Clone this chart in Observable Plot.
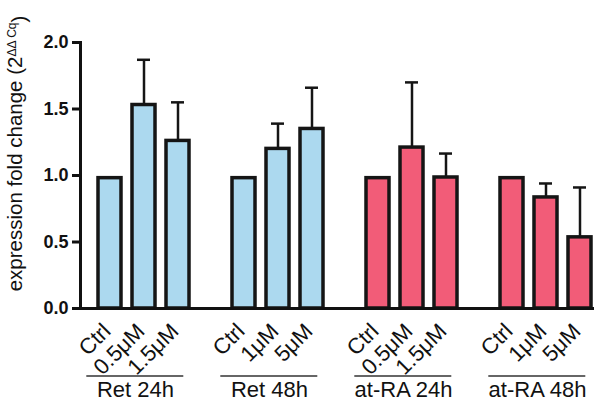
<!DOCTYPE html>
<html>
<head>
<meta charset="utf-8">
<script src="https://cdn.jsdelivr.net/npm/d3@7"></script>
<script src="https://cdn.jsdelivr.net/npm/@observablehq/plot@0.6"></script>
<style>
  html, body { margin: 0; padding: 0; background: #fff; }
  #chart svg { display: block; }
</style>
</head>
<body>
<div id="chart"></div>
<script>
// ---- data ----
const groups = ["Ret 24h", "Ret 48h", "at-RA 24h", "at-RA 48h"];
const compounds = ["Ret", "Ret", "at-RA", "at-RA"];
const treatments = [
  ["Ctrl", "0.5μM", "1.5μM"],
  ["Ctrl", "1μM", "5μM"],
  ["Ctrl", "0.5μM", "1.5μM"],
  ["Ctrl", "1μM", "5μM"]
];
const means = [
  [0.98, 1.53, 1.26],
  [0.98, 1.20, 1.35],
  [0.98, 1.21, 0.985],
  [0.98, 0.835, 0.535]
];
const upperErr = [
  [null, 1.87, 1.55],
  [null, 1.39, 1.66],
  [null, 1.70, 1.165],
  [null, 0.94, 0.91]
];
const yTicks = [0, 0.5, 1.0, 1.5, 2.0];
const compoundColors = ["#acd9ef", "#f25c78"];

// table built from the arrays above
const rows = [];
groups.forEach((g, gi) => {
  treatments[gi].forEach((t, ti) => {
    rows.push({group: g, compound: compounds[gi], pos: ti, label: t,
               mean: means[gi][ti], upper: upperErr[gi][ti]});
  });
});
const errRows = rows.filter(d => d.upper != null);

const font = "'Liberation Sans', Arial, Helvetica, sans-serif";

const chart = Plot.plot({
  width: 606,
  height: 401,
  marginTop: 42,
  marginBottom: 93,
  marginLeft: 80,
  marginRight: 0,
  style: {fontFamily: font, color: "#111", background: "#fff"},
  fx: {domain: groups, paddingInner: 0.181, paddingOuter: 0.0488, align: 0, axis: null, label: null},
  x: {domain: [0, 1, 2], paddingInner: 0.31, paddingOuter: 0.2355, align: 0.9756, axis: null},
  y: {domain: [0, 2], axis: null},
  color: {domain: ["Ret", "at-RA"], range: compoundColors},
  marks: [
    Plot.barY(rows, {fx: "group", x: "pos", y: "mean", fill: "compound",
      stroke: "#151515", strokeWidth: 3.5, inset: 0}),
    Plot.ruleX(errRows, {fx: "group", x: "pos", y1: "mean", y2: "upper",
      stroke: "#151515", strokeWidth: 2.5}),
    Plot.tickY(errRows, {fx: "group", x: "pos", y: "upper",
      stroke: "#151515", strokeWidth: 2.5, inset: 5}),
    Plot.frame({anchor: "left", facet: "super", stroke: "#111", strokeWidth: 3}),
    Plot.frame({anchor: "bottom", facet: "super", stroke: "#111", strokeWidth: 3}),
    Plot.axisY({ticks: yTicks, tickFormat: d => d.toFixed(1), tickSize: 8,
      strokeWidth: 3, tickPadding: 4, fontSize: 18, fontWeight: "bold",
      label: null, color: "#111"}),
    Plot.text(rows, {fx: "group", x: "pos", text: "label", frameAnchor: "bottom",
      rotate: -45, textAnchor: "end", dy: 24, dx: 2, fontSize: 22, fill: "#111"}),
    Plot.ruleY(groups, {fx: d => d, y: 0, dy: 67.5, insetLeft: 6.3, insetRight: 6.7,
      stroke: "#666", strokeWidth: 2}),
    Plot.text(groups, {fx: d => d, text: d => d, frameAnchor: "bottom",
      dy: 88, fontSize: 22, fill: "#111"}),
    Plot.text(["title"], {facet: "super", frameAnchor: "left", textAnchor: "middle",
      dx: -65, dy: -22, rotate: -90, text: () => "expression fold change (2ΔΔCq)",
      fontSize: 20.5, fill: "#111", ariaLabel: "y-title"})
  ]
});

document.getElementById("chart").appendChild(chart);

// superscript for the y-axis title
let t = d3.select(chart).select('[aria-label="y-title"]');
if (!t.empty() && t.node().tagName.toLowerCase() !== "text") t = t.select("text");
if (t.empty()) {
  t = d3.select(chart).selectAll("text").filter(function() {
    return this.textContent === "expression fold change (2ΔΔCq)";
  });
}
if (!t.empty()) {
  t.text(null);
  t.append("tspan").text("expression fold change (2");
  t.append("tspan").attr("dy", "-0.5em").attr("font-size", 12).text("ΔΔ Cq");
  t.append("tspan").attr("dy", "0.5em").text(")");
}
</script>
</body>
</html>
